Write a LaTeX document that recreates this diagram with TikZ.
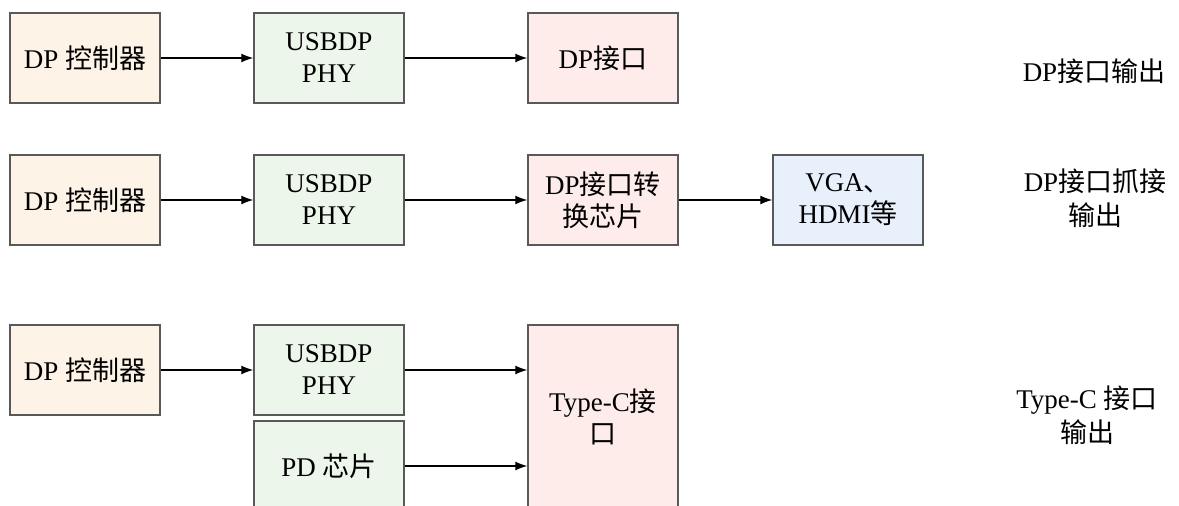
\documentclass[tikz,border=0pt]{standalone}
\usepackage{fontspec}
\setmainfont{Liberation Serif}
\newfontfamily\cjk{Noto Sans CJK SC}
\newcommand\zh[1]{{\cjk #1}}
\usetikzlibrary{arrows.meta}
\definecolor{ctlfill}{HTML}{FDF3E7}
\definecolor{phyfill}{HTML}{EDF6EA}
\definecolor{portfill}{HTML}{FDECE9}
\definecolor{vgafill}{HTML}{E8F1FB}

\begin{document}
\begin{tikzpicture}[x=0.5pt,y=-0.5pt,
  blk/.style={draw=black!65,line width=0.75pt,minimum width=75pt,minimum height=45pt,
    align=center,inner sep=2pt,font=\fontsize{13.5}{16}\selectfont},
  ctl/.style={blk,fill=ctlfill},
  phy/.style={blk,fill=phyfill},
  port/.style={blk,fill=portfill},
  vga/.style={blk,fill=vgafill},
  note/.style={align=center,font=\fontsize{13.5}{17}\selectfont},
  link/.style={-{Latex[length=6pt,width=4.5pt]},line width=0.6pt}]
\useasboundingbox (0,0) rectangle (1179,506);
\clip (0,0) rectangle (1179,506);
\node[ctl] (ctla) at (85,58) {DP \zh{控制器}};
\node[phy] (phya) at (329,58) {USBDP\\PHY};
\node[port] (porta) at (603,58) {DP\zh{接口}};
\node[note] (notea) at (1094,71) {DP\zh{接口输出}};
\draw[link] (ctla) -- (phya);
\draw[link] (phya) -- (porta);
\node[ctl] (ctlb) at (85,200) {DP \zh{控制器}};
\node[phy] (phyb) at (329,200) {USBDP\\PHY};
\node[port] (portb) at (603,200) {DP\zh{接口转}\\\zh{换芯片}};
\node[vga] (vgab) at (848,200) {VGA\zh{、}\\HDMI\zh{等}};
\node[note] (noteb) at (1095,198) {DP\zh{接口抓接}\\\zh{输出}};
\draw[link] (ctlb) -- (phyb);
\draw[link] (phyb) -- (portb);
\draw[link] (portb) -- (vgab);
\node[ctl] (ctlc) at (85,370) {DP \zh{控制器}};
\node[phy] (phyc) at (329,370) {USBDP\\PHY};
\node[phy] (pdc) at (329,466) {PD \zh{芯片}};
\node[port,minimum height=92pt] (tcc) at (603,417) {Type-C\zh{接}\\\zh{口}};
\node[note] (notec) at (1087,415) {Type-C \zh{接口}\\\zh{输出}};
\draw[link] (ctlc) -- (phyc);
\draw[link] (phyc) -- (phyc -| tcc.west);
\draw[link] (pdc) -- (pdc -| tcc.west);
\end{tikzpicture}
\end{document}
